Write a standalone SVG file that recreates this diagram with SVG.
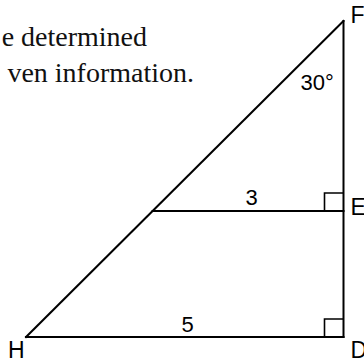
<svg xmlns="http://www.w3.org/2000/svg" width="364" height="362" viewBox="0 0 364 362">
<style>
.ln{stroke:#000;stroke-width:2;fill:none;stroke-linecap:square}
.ra{stroke:#000;stroke-width:1.6;fill:none}
.lb{font-family:"Liberation Sans",Arial,sans-serif;font-size:22px;fill:#000}
.lt{font-family:"Liberation Sans",Arial,sans-serif;font-size:23px;fill:#000}
.tx{font-family:"Liberation Serif","Times New Roman",serif;font-size:28px;fill:#111}
</style>
<rect width="364" height="362" fill="#fff"/>
<g id="caption">
<text class="tx" x="147" y="46" text-anchor="end">e determined</text>
<text class="tx" x="194" y="82" text-anchor="end">ven information.</text>
</g>
<g id="connectors">
<line class="ln" x1="26" y1="337" x2="343.5" y2="21"/>
<line class="ln" x1="343.5" y1="21" x2="343.5" y2="337"/>
<line class="ln" x1="26" y1="337" x2="343.5" y2="337"/>
<line class="ln" x1="152.6" y1="211" x2="343.5" y2="211"/>
<polyline class="ra" points="324.5,211 324.5,193 343.5,193"/>
<polyline class="ra" points="324.5,337 324.5,319 343.5,319"/>
</g>
<g id="F"><text class="lt" x="350.5" y="22.5">F</text></g>
<g id="E"><text class="lt" x="350.5" y="215">E</text></g>
<g id="D"><text class="lt" x="350.5" y="358">D</text></g>
<g id="H"><text class="lt" x="8" y="357.5">H</text></g>
<g id="angle"><text class="lb" x="300.5" y="89.5">30°</text></g>
<g id="len3"><text class="lb" x="251.7" y="205" text-anchor="middle">3</text></g>
<g id="len5"><text class="lb" x="187.5" y="331.5" text-anchor="middle">5</text></g>
</svg>
